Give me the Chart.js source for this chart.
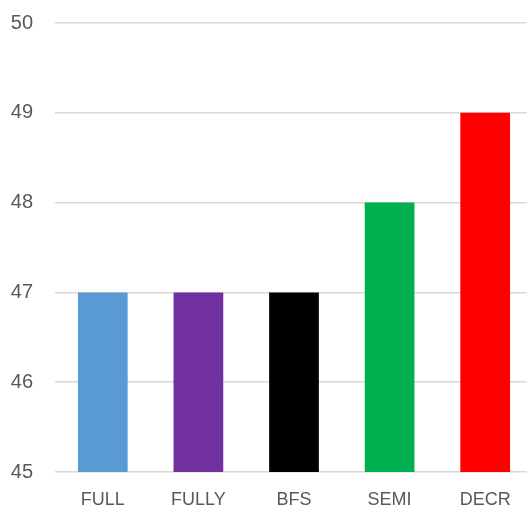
<!DOCTYPE html>
<html>
<head>
<meta charset="utf-8">
<script src="https://cdn.jsdelivr.net/npm/chart.js@4"></script>
<style>
  html, body { margin: 0; padding: 0; background: #fff; overflow: hidden; }
  #wrap { width: 533px; height: 508px; }
</style>
</head>
<body>
<div id="wrap"><canvas id="barChart"></canvas></div>
<script>
// Values per method
const methods = ['FULL', 'FULLY', 'BFS', 'SEMI', 'DECR'];
const scores = [47, 47, 47, 48, 49];
const barColors = ['#5b9bd5', '#7030a0', '#000000', '#00b050', '#ff0000'];
const yTicks = [45, 46, 47, 48, 49, 50];

const ctx = document.getElementById('barChart').getContext('2d');
new Chart(ctx, {
  type: 'bar',
  data: {
    labels: methods,
    datasets: [{
      data: scores,
      backgroundColor: barColors,
      borderWidth: 0,
      barPercentage: 0.52,
      categoryPercentage: 1
    }]
  },
  options: {
    responsive: true,
    maintainAspectRatio: false,
    animation: false,
    layout: { padding: { left: 10, top: 23, right: 0, bottom: 0 } },
    plugins: {
      legend: { display: false },
      tooltip: { enabled: false }
    },
    scales: {
      x: {
        afterFit: scale => { scale.height = 36; },
        grid: { display: false, drawTicks: false },
        border: { display: false },
        ticks: {
          color: '#595959',
          padding: 17,
          font: { family: 'Liberation Sans, Arial, sans-serif', size: 18 }
        }
      },
      y: {
        min: yTicks[0],
        max: yTicks[yTicks.length - 1],
        afterBuildTicks: axis => { axis.ticks = yTicks.map(v => ({ value: v })); },
        afterFit: scale => {
          scale.width = 45;
          scale.paddingTop = 0;
          scale.paddingBottom = 0;
        },
        grid: { color: '#d9d9d9', lineWidth: 1.5, drawTicks: false },
        border: { display: false },
        ticks: {
          color: '#595959',
          padding: 22,
          font: { family: 'Liberation Sans, Arial, sans-serif', size: 20 }
        }
      }
    }
  }
});
</script>
</body>
</html>
